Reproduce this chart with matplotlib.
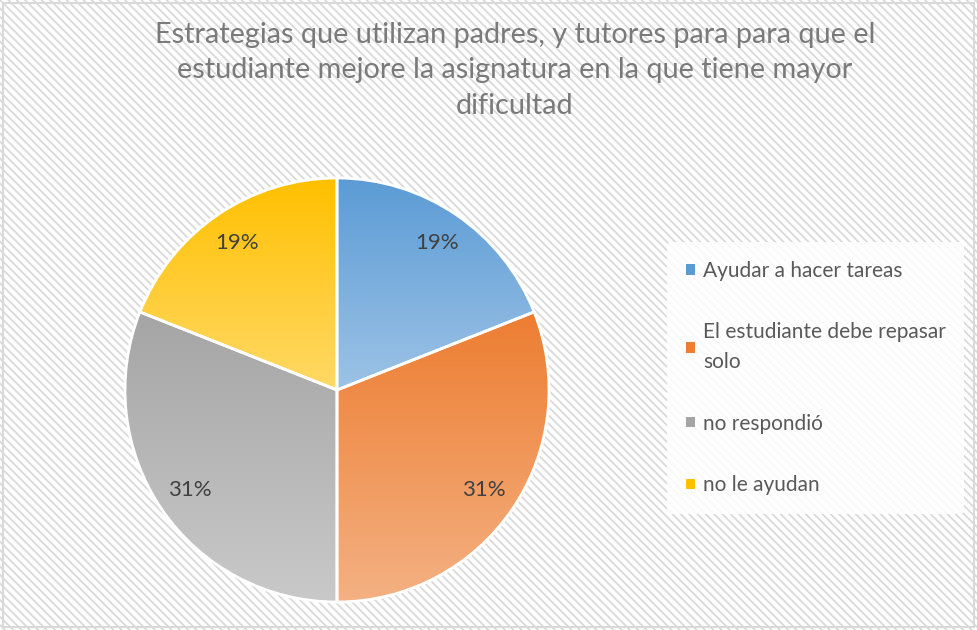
import numpy as np
import matplotlib
matplotlib.use('Agg')
import matplotlib.pyplot as plt
from matplotlib.colors import LinearSegmentedColormap
from matplotlib.patches import Rectangle, Patch

# Datos del gráfico
categorias = ['Ayudar a hacer tareas', 'El estudiante debe repasar\nsolo',
              'no respondió', 'no le ayudan']
porcentajes = [19, 31, 31, 19]
colores_arriba = ['#5B9BD5', '#ED7D31', '#A5A5A5', '#FFC000']
colores_abajo = ['#9DC3E6', '#F4B183', '#C9C9C9', '#FFD966']
titulo = ('Estrategias que utilizan padres, y tutores para para que el\n'
          'estudiante mejore la asignatura en la que tiene mayor\n'
          'dificultad')

plt.rcParams['font.family'] = ['Lato', 'DejaVu Sans']
plt.rcParams['hatch.color'] = '#DADADA'
plt.rcParams['hatch.linewidth'] = 1.3

fig = plt.figure(figsize=(9.77, 6.30), dpi=100)

# Fondo con rayas diagonales y borde gris
fondo = Rectangle((0, 0), 1, 1, transform=fig.transFigure, facecolor='white',
                  edgecolor='#DADADA', hatch='\\\\\\\\', linewidth=0, zorder=-10)
fig.add_artist(fondo)
borde = Rectangle((0.003, 0.004), 0.994, 0.992, transform=fig.transFigure,
                  facecolor='none', edgecolor='#D9D9D9', linewidth=1.5, zorder=-9)
fig.add_artist(borde)

# Ejes cuadrados para el pastel
ax = fig.add_axes([125 / 977, 28 / 630, 424 / 977, 424 / 630])
wedges, textos, autotextos = ax.pie(
    porcentajes, colors=colores_arriba, startangle=90, counterclock=False,
    autopct='%1.0f%%', pctdistance=0.84, radius=1,
    wedgeprops=dict(edgecolor='white', linewidth=2.0),
    textprops=dict(color='#404040', fontsize=16))

# Degradado vertical dentro de cada porción
for w, c1, c2 in zip(wedges, colores_arriba, colores_abajo):
    th = np.radians(np.linspace(w.theta1, w.theta2, 200))
    xs = np.concatenate([[w.center[0]], w.center[0] + w.r * np.cos(th)])
    ys = np.concatenate([[w.center[1]], w.center[1] + w.r * np.sin(th)])
    cmap = LinearSegmentedColormap.from_list('g', [c2, c1])
    grad = np.linspace(0, 1, 256).reshape(-1, 1)
    im = ax.imshow(grad, cmap=cmap, origin='lower', aspect='auto',
                   extent=[xs.min(), xs.max(), ys.min(), ys.max()], zorder=0.5)
    im.set_clip_path(w)
    w.set_facecolor('none')
    w.set_zorder(1)

for t in autotextos:
    t.set_zorder(3)

ax.set_xlim(-1.0, 1.0)
ax.set_ylim(-1.0, 1.0)
ax.set_aspect('equal')
ax.axis('off')

# Título
fig.text(0.527, 1 - 22 / 630, titulo, ha='center', va='top', fontsize=20.8,
         color='#7A7A7A', linespacing=1.45)

# Leyenda
manejadores = [Patch(facecolor=c) for c in colores_arriba]
leg = fig.legend(manejadores, categorias, loc='center left',
                 bbox_to_anchor=(657 / 977, 1 - 378 / 630), fontsize=15,
                 handlelength=0.4, handleheight=0.4, handletextpad=0.4,
                 labelspacing=2.0, frameon=True, borderpad=0.9)
leg.get_frame().set_facecolor('white')
leg.get_frame().set_alpha(0.85)
leg.get_frame().set_edgecolor('none')
for t in leg.get_texts():
    t.set_color('#595959')
    t.set_linespacing(1.6)

fig.savefig('out.png', dpi=100)
